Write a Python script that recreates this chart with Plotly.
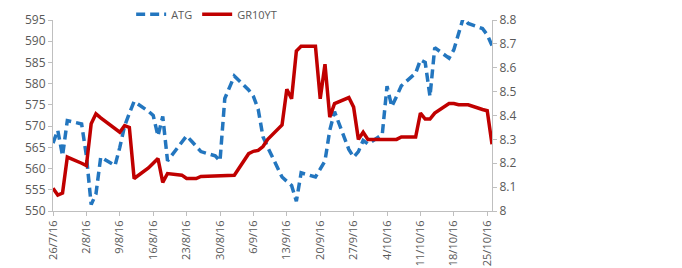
import plotly.graph_objects as go

atg_dates = ["2016-07-26", "2016-07-27", "2016-07-28", "2016-07-29", "2016-08-01", "2016-08-02",
             "2016-08-03", "2016-08-04", "2016-08-05", "2016-08-08", "2016-08-09", "2016-08-10",
             "2016-08-11", "2016-08-12", "2016-08-15", "2016-08-16", "2016-08-17", "2016-08-18",
             "2016-08-19", "2016-08-22", "2016-08-23", "2016-08-24", "2016-08-25", "2016-08-26",
             "2016-08-29", "2016-08-30", "2016-08-31", "2016-09-01", "2016-09-02", "2016-09-05",
             "2016-09-06", "2016-09-07", "2016-09-08", "2016-09-09", "2016-09-12", "2016-09-13",
             "2016-09-14", "2016-09-15", "2016-09-16", "2016-09-19", "2016-09-20", "2016-09-21",
             "2016-09-22", "2016-09-23", "2016-09-26", "2016-09-27", "2016-09-28", "2016-09-29",
             "2016-09-30", "2016-10-03", "2016-10-04", "2016-10-05", "2016-10-06", "2016-10-07",
             "2016-10-10", "2016-10-11", "2016-10-12", "2016-10-13", "2016-10-14", "2016-10-17",
             "2016-10-18", "2016-10-19", "2016-10-20", "2016-10-21", "2016-10-24", "2016-10-25",
             "2016-10-26"]
atg_values = [566, 569, 563, 571.3, 570.5, 563,
              551.5, 554, 562.7, 560.7, 565, 570,
              573, 575.8, 573.5, 572.5, 567.7, 572.3,
              561.8, 566, 567.7, 566.5, 565.3, 564,
              563, 561.8, 576.5, 579, 581.8, 578.5,
              577, 574, 567.5, 565, 558, 557,
              556, 552.3, 559, 558, 560, 561.8,
              569, 573.4, 564.5, 562.7, 564, 566.6,
              565.8, 568, 579.4, 574.6, 577, 579.5,
              582.5, 585.6, 585, 577, 588.5, 586,
              588, 592, 595.6, 594.2, 593, 591.5,
              589]

gr_dates = ["2016-07-26", "2016-07-27", "2016-07-28", "2016-07-29", "2016-08-01", "2016-08-02",
            "2016-08-03", "2016-08-04", "2016-08-05", "2016-08-08", "2016-08-09", "2016-08-10",
            "2016-08-11", "2016-08-12", "2016-08-15", "2016-08-16", "2016-08-17", "2016-08-18",
            "2016-08-19", "2016-08-22", "2016-08-23", "2016-08-24", "2016-08-25", "2016-08-26",
            "2016-08-29", "2016-08-30", "2016-08-31", "2016-09-01", "2016-09-02", "2016-09-05",
            "2016-09-06", "2016-09-07", "2016-09-08", "2016-09-09", "2016-09-12", "2016-09-13",
            "2016-09-14", "2016-09-15", "2016-09-16", "2016-09-19", "2016-09-20", "2016-09-21",
            "2016-09-22", "2016-09-23", "2016-09-26", "2016-09-27", "2016-09-28", "2016-09-29",
            "2016-09-30", "2016-10-03", "2016-10-04", "2016-10-05", "2016-10-06", "2016-10-07",
            "2016-10-10", "2016-10-11", "2016-10-12", "2016-10-13", "2016-10-14", "2016-10-17",
            "2016-10-18", "2016-10-19", "2016-10-20", "2016-10-21", "2016-10-24", "2016-10-25",
            "2016-10-26"]
gr_values = [8.095, 8.067, 8.075, 8.226, 8.20, 8.19,
             8.365, 8.407, 8.39, 8.345, 8.33, 8.358,
             8.35, 8.136, 8.18, 8.20, 8.22, 8.12,
             8.157, 8.15, 8.136, 8.136, 8.136, 8.145,
             8.148, 8.148, 8.15, 8.15, 8.15, 8.24,
             8.25, 8.254, 8.27, 8.30, 8.36, 8.51,
             8.47, 8.67, 8.69, 8.69, 8.47, 8.615,
             8.393, 8.45, 8.475, 8.435, 8.30, 8.33,
             8.30, 8.30, 8.30, 8.30, 8.30, 8.31,
             8.31, 8.41, 8.385, 8.385, 8.41, 8.45,
             8.45, 8.445, 8.445, 8.445, 8.425, 8.42,
             8.28]

x_tick_dates = ["2016-07-26", "2016-08-02", "2016-08-09", "2016-08-16", "2016-08-23", "2016-08-30",
                "2016-09-06", "2016-09-13", "2016-09-20", "2016-09-27", "2016-10-04", "2016-10-11",
                "2016-10-18", "2016-10-25"]
x_tick_labels = ["26/7/16", "2/8/16", "9/8/16", "16/8/16", "23/8/16", "30/8/16", "6/9/16",
                 "13/9/16", "20/9/16", "27/9/16", "4/10/16", "11/10/16", "18/10/16", "25/10/16"]
left_ticks = [550, 555, 560, 565, 570, 575, 580, 585, 590, 595]
right_ticks = [8, 8.1, 8.2, 8.3, 8.4, 8.5, 8.6, 8.7, 8.8]
right_labels = ["8", "8.1", "8.2", "8.3", "8.4", "8.5", "8.6", "8.7", "8.8"]

BLUE = "#2376BF"
RED = "#C00000"
AXIS = "#BFBFBF"
TXT = "#595959"
FONT = "Open Sans"

fig = go.Figure()
fig.add_trace(go.Scatter(x=atg_dates, y=atg_values, name="ATG", mode="lines",
                         line=dict(color=BLUE, width=3.5, dash="9px,5px")))
fig.add_trace(go.Scatter(x=gr_dates, y=gr_values, name="GR10YT", mode="lines",
                         line=dict(color=RED, width=3.5), yaxis="y2"))

fig.update_layout(
    width=682, height=268,
    margin=dict(l=53, r=190, t=20, b=57, autoexpand=False),
    paper_bgcolor="white", plot_bgcolor="white",
    font=dict(family=FONT, size=11, color=TXT),
    showlegend=True,
    legend=dict(orientation="h", x=0.35, y=1.03, xanchor="center", yanchor="middle",
                font=dict(size=11, color=TXT), bgcolor="rgba(0,0,0,0)",
                tracegroupgap=0),
    xaxis=dict(type="date", range=["2016-07-26", "2016-10-26"],
               tickmode="array", tickvals=x_tick_dates, ticktext=x_tick_labels,
               tickangle=-90, showgrid=False, showline=True, linecolor=AXIS, linewidth=1,
               ticks="outside", ticklen=4, tickcolor=AXIS,
               tickfont=dict(size=11, color=TXT), zeroline=False),
    yaxis=dict(range=[550, 595], tickmode="array", tickvals=left_ticks,
               showgrid=False, showline=True, linecolor=AXIS, linewidth=1,
               ticks="outside", ticklen=4, tickcolor=AXIS, zeroline=False,
               tickfont=dict(size=12, color=TXT)),
    yaxis2=dict(range=[8, 8.8], overlaying="y", side="right", tickmode="array",
                tickvals=right_ticks, ticktext=right_labels,
                showgrid=False, showline=True, linecolor=AXIS, linewidth=1,
                ticks="outside", ticklen=4, tickcolor=AXIS, zeroline=False,
                tickfont=dict(size=12, color=TXT)),
)

fig.write_html("out.html", config={"displayModeBar": False},
               post_script="document.body.style.margin='0';")
